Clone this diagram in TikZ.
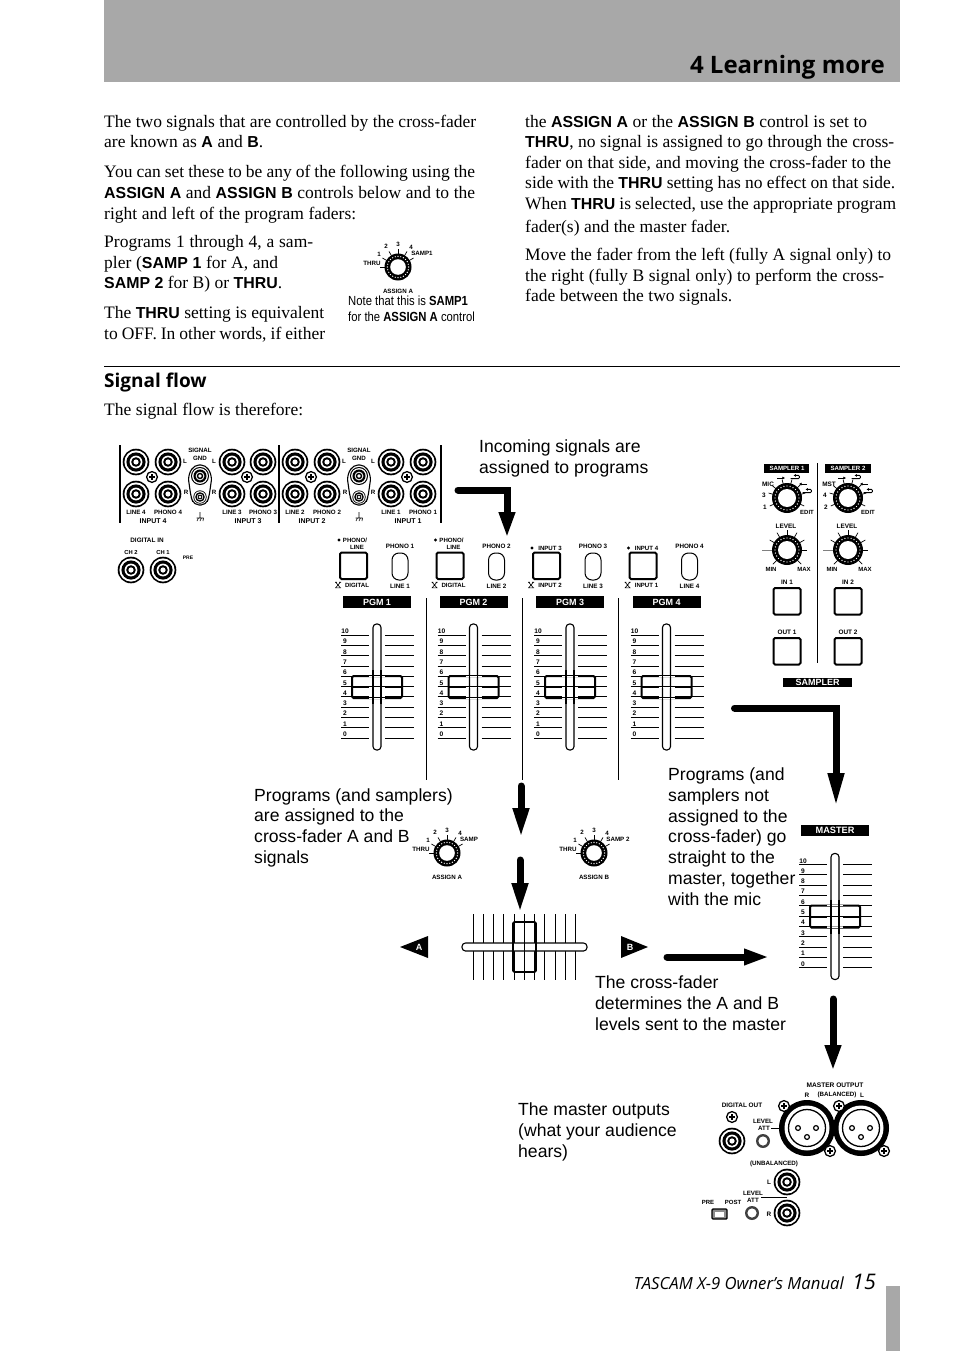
\documentclass[tikz,border=0pt]{standalone}
\usepackage{fontspec}
\setmainfont{Liberation Serif}
\newfontfamily\hv{Liberation Sans}
\newfontfamily\hvn[FakeStretch=0.855]{Liberation Sans}
\newfontfamily\headf{Open Sans}
\usetikzlibrary{arrows.meta}
\newcounter{nn}
\newcommand{\bsf}[1]{{\hv\bfseries\fontsize{15.9}{18}\selectfont #1}}
\newcommand{\tl}[4]{\stepcounter{nn}\node[bodytext] (t\thenn) at (#1,#2) {\makebox[#3pt][s]{#4}};}
\newcommand{\capt}[3]{\stepcounter{nn}\node[captext] (c\thenn) at (#1,#2) {#3};}
\newcommand{\lbl}[4]{\stepcounter{nn}\node[anchor=base,inner sep=0pt,font=\hv\bfseries\fontsize{#3}{#3}\selectfont] (l\thenn) at ({#1},{(#2)+0.36*(#3)}) {#4};}
\newcommand{\wlbl}[4]{\stepcounter{nn}\node[anchor=base,inner sep=0pt,text=white,font=\hv\bfseries\fontsize{#3}{#3}\selectfont] (w\thenn) at ({#1},{(#2)+0.36*(#3)}) {#4};}
\newcommand{\jack}[3]{%
 \fill[black] (#1,#2) circle[radius=13.3pt*#3];
 \fill[white] (#1,#2) circle[radius=11.6pt*#3];
 \fill[black] (#1,#2) circle[radius=9.6pt*#3];
 \fill[white] (#1,#2) circle[radius=6.4pt*#3];
 \fill[black] (#1,#2) circle[radius=4.8pt*#3];
 \fill[white] (#1,#2) circle[radius=2.6pt*#3];}
\newcommand{\screw}[2]{%
 \draw[line width=1.3pt,fill=white] (#1,#2) circle[radius=5.4pt];
 \draw[line width=1.1pt] ({#1-3},#2) -- ({#1+3},#2) ({#1},{#2-3}) -- ({#1},{#2+3});}
\newcommand{\tick}[5]{\draw[line width=.7pt] ({#1+#4*cos(#3)},{#2-#4*sin(#3)}) -- ({#1+#5*cos(#3)},{#2-#5*sin(#3)});}
\newcommand{\knob}[4]{%
 \fill[black] (#1,#2) circle[radius=#3 pt];
 \foreach \ka in {0,15,...,345}{\fill[white] ({#1+(#3*.5+#4*.5)*cos(\ka)},{#2-(#3*.5+#4*.5)*sin(\ka)}) circle[radius=.7pt];}
 \fill[white] (#1,#2) circle[radius=#4 pt];}
\newcommand{\assignknob}[5]{% x y sampxoff samp bottom
 \foreach \ta in {30,60,...,180}{\tick{#1}{#2}{\ta}{13}{18}}
 \knob{#1}{#2}{13.5}{7.8}
 \lbl{#1-26}{#2-4}{6.2}{THRU}
 \lbl{#1-19}{#2-13}{6.2}{1}
 \lbl{#1-12}{#2-20.5}{6.2}{2}
 \lbl{#1}{#2-23}{6.2}{3}
 \lbl{#1+13}{#2-20}{6.2}{4}
 \lbl{#1+#3}{#2-14}{6.2}{#4}
 \lbl{#1}{#2+24}{6.2}{#5}}
\newcommand{\btn}[2]{\draw[line width=2pt,rounded corners=1.5pt,fill=white] (#1,#2) rectangle ++(27,26.5);}
\newcommand{\blackbox}[4]{\fill[black] (#1,#2) rectangle (#3,#4);}
\newcommand{\xmark}[2]{\draw[line width=.6pt] ({#1-2.2},{#2-2.6}) -- ({#1+2.2},{#2+2.6}) ({#1+2.2},{#2-2.6}) -- ({#1-2.2},{#2+2.6}) ({#1-3},{#2-2.8}) -- ({#1-1.2},{#2-2.8}) ({#1+1.2},{#2-2.8}) -- ({#1+3},{#2-2.8}) ({#1-3},{#2+2.8}) -- ({#1+3},{#2+2.8});}
\newcommand{\dia}[2]{\fill[black] ({#1-1.6},#2) -- (#1,{#2-1.6}) -- ({#1+1.6},#2) -- (#1,{#2+1.6}) -- cycle;}
\newcommand{\faderscale}{%
 \foreach \i/\v in {0/10,1/9,2/8,3/7,4/6,5/5,6/4,7/3,8/2,9/1,10/0}{%
  \pgfmathsetmacro{\yy}{635+10.3*\i}
  \draw[line width=.7pt] (341,\yy) -- (369,\yy) (385,\yy) -- (414,\yy);
  \lbl{345}{\yy-3.8}{6.6}{\v}}
 \draw[line width=1.1pt,fill=white,rounded corners=3.5pt] (373,624) rectangle (381,750);
 \draw[line width=2pt,rounded corners=1.5pt] (352,676) rectangle (402,698);
 \draw[line width=2pt] (352,687.3) -- (402,687.3);
 \draw[line width=.6pt,white] (369,676) -- (385,676) (369,687.3) -- (385,687.3) (369,698) -- (385,698);
 \draw[line width=1.1pt] (373,670) -- (373,704) (381,670) -- (381,704);}
\newcommand{\strip}[7]{\begin{scope}[shift={(#1,0)}]
 \btn{340}{552.5}
 \draw[line width=1pt,rounded corners=7pt,fill=white] (392,553) rectangle (408,580);
 \lbl{400}{546}{6.3}{#2}
 \lbl{400}{586}{6.3}{#3}
 \dia{339}{#4}
 #5
 \xmark{338}{585}
 \lbl{357}{585}{6.1}{#6}
 \blackbox{343}{596}{411}{608}
 \wlbl{377}{602}{9}{#7}
 \faderscale
\end{scope}}
\newcommand{\xlr}[2]{%
 \fill[black] (#1,#2) circle[radius=28pt];
 \fill[white] (#1,#2) circle[radius=22.5pt];
 \draw[line width=1.3pt] (#1,#2) circle[radius=18.5pt];
 \draw[line width=1.2pt] ({#1-9},#2) circle[radius=2.4pt] ({#1+9},#2) circle[radius=2.4pt] (#1,{#2+9}) circle[radius=2.4pt];}
\newcommand{\smallknob}[2]{%
 \fill[black!75] (#1,#2) circle[radius=7pt];
 \fill[white] (#1,#2) circle[radius=4.6pt];}
\newcommand{\looparrow}[2]{\draw[line width=.9pt,rounded corners=1.2pt,-{Latex[length=2.4pt,width=3pt]}] ({#1-4.5},{#2+1.6}) -- ({#1+4.5},{#2+1.6}) -- ({#1+4.5},{#2-1.6}) -- ({#1-1.5},{#2-1.6});}
\newcommand{\sampknobs}[6]{%
 \foreach \ta in {205,165,140,105,75,45,15,-25}{\tick{#1}{498}{\ta}{14}{19}}
 \knob{#1}{498}{15}{9}
 \lbl{#1-19}{484}{6.4}{#2}
 \lbl{#1-23}{495}{6.4}{#3}
 \lbl{#1-22}{507}{6.4}{#4}
 \lbl{#1+20}{512}{6}{EDIT}
 \draw[line width=.9pt,-{Latex[length=2.6pt,width=3.2pt]}] ({#1-10},478) -- ({#1-2},478);
 \looparrow{#1+8}{477}
 \draw[line width=.9pt,-{Latex[length=2.6pt,width=3.2pt]}] ({#1+20},484) -- ({#1+12},484);
 \looparrow{#1+20}{491}
 \lbl{#1-1}{526}{6.4}{LEVEL}
 \foreach \ta in {0,30,60,90,120,150,225,315}{\tick{#1}{550}{\ta}{14}{20}}
 \draw[line width=.9pt,gray] ({#1-25},550) -- ({#1-14},550);
 \knob{#1}{550}{15}{9}
 \lbl{#1-16}{569}{6}{MIN}
 \lbl{#1+17}{569}{6}{MAX}
 \lbl{#1}{582}{6.4}{#5}
 \btn{#1-13.5}{588}
 \lbl{#1}{632}{6.4}{#6}
 \btn{#1-13.5}{638}}
\newcommand{\gnd}[1]{\draw[line width=.6pt] (#1,512) -- (#1,518) ({#1-3.5},518) -- ({#1+3.5},518) ({#1-3},521) -- ({#1-1.5},518) ({#1},521) -- ({#1+1.5},518) ({#1+3},521) -- ({#1+3.5},518);}
\newcommand{\gndcol}[1]{%
 \draw[line width=1.1pt,fill=white,rounded corners=5pt] ({#1-6},465) -- ({#1+6},465) -- ({#1+12},476) -- ({#1+9},497) -- ({#1+6},505) -- ({#1-6},505) -- ({#1-9},497) -- ({#1-12},476) -- cycle;
 \jack{#1}{476}{.68}
 \jack{#1}{497}{.5}
 \lbl{#1}{450}{6.2}{SIGNAL}
 \lbl{#1}{458}{6.2}{GND}
 \lbl{#1-15}{461}{6.2}{L}
 \lbl{#1+14}{461}{6.2}{L}
 \lbl{#1-14}{492}{6.2}{R}
 \lbl{#1+14}{492}{6.2}{R}
 \gnd{#1}}
\tikzset{
 bodytext/.style={anchor=base west,inner sep=0pt,font=\fontsize{17.5}{20}\selectfont},
 captext/.style={anchor=base west,inner sep=0pt,font=\hv\fontsize{17.6}{20}\selectfont},
 bigarrow/.style={draw=black,line width=7pt,line cap=round,-{Triangle[length=#1,width=15pt]}},
 bigarrow/.default=30pt,
}
\begin{document}
\begin{tikzpicture}[x=1pt,y=-1pt]
\useasboundingbox (0,0) rectangle (954,1351);
\fill[white] (0,0) rectangle (954,1351);
\fill[black!34] (104,0) rectangle (900,82);
\node[anchor=base east,inner sep=0pt,font=\headf\bfseries\fontsize{24}{28}\selectfont] (title) at (885,74) {4 Learning more};
\fill[black!34] (886,1286) rectangle (900,1351);
% column 1
\tl{104}{128}{372}{The two signals that are controlled by the cross-fader}
\tl{104}{148}{159}{are known as \bsf{A} and \bsf{B}.}
\tl{104}{178}{371}{You can set these to be any of the following using the}
\tl{104}{198}{371}{\bsf{ASSIGN A} and \bsf{ASSIGN B} controls below and to the}
\tl{104}{219}{252}{right and left of the program faders:}
\tl{104}{247}{209}{Programs 1 through 4, a sam-}
\tl{104}{268}{174}{pler (\bsf{SAMP 1} for A, and}
\tl{104}{288}{178}{\bsf{SAMP 2} for B) or \bsf{THRU}.}
\tl{104}{318}{220}{The \bsf{THRU} setting is equivalent}
\tl{104}{339}{221}{to OFF. In other words, if either}
% column 2
\tl{525}{128}{342}{the \bsf{ASSIGN A} or the \bsf{ASSIGN B} control is set to}
\tl{525}{148}{369}{\bsf{THRU}, no signal is assigned to go through the cross-}
\tl{525}{169}{366}{fader on that side, and moving the cross-fader to the}
\tl{525}{189}{370}{side with the \bsf{THRU} setting has no effect on that side.}
\tl{525}{209}{371}{When \bsf{THRU} is selected, use the appropriate program}
\tl{525}{232}{205}{fader(s) and the master fader.}
\tl{525}{260}{366}{Move the fader from the left (fully A signal only) to}
\tl{525}{281}{359}{the right (fully B signal only) to perform the cross-}
\tl{525}{301}{207}{fade between the two signals.}
% note knob
\assignknob{398}{267}{24}{SAMP1}{ASSIGN A}
\node[anchor=base west,inner sep=0pt,font=\hvn\fontsize{13.2}{15}\selectfont] (note1) at (348,305) {Note that this is \textbf{SAMP1}};
\node[anchor=base west,inner sep=0pt,font=\hvn\fontsize{13.2}{15}\selectfont] (note2) at (348,321) {for the \textbf{ASSIGN A} control};
% heading
\coordinate (ruleL) at (104,366);
\coordinate (ruleR) at (900,366);
\draw[line width=.8pt] (ruleL) -- (ruleR);
\node[anchor=base west,inner sep=0pt,font=\headf\bfseries\fontsize{19}{22}\selectfont] (sigflow) at (104,387) {Signal flow};
\tl{104}{415}{199}{The signal flow is therefore:}
% rear panel
\foreach \bx in {120,279,441}{\draw[line width=1.2pt] (\bx,445) -- (\bx,523);}
\foreach \ja/\jb/\sc/\l in {136/168/152/4,232/263/247/3,295/327/311/2,391/423/407/1}{%
 \jack{\ja}{462}{1}\jack{\jb}{462}{1}\jack{\ja}{494}{1}\jack{\jb}{494}{1}
 \screw{\sc}{477}
 \lbl{\ja}{512}{6.2}{LINE \l}
 \lbl{\jb}{512}{6.2}{PHONO \l}
 \lbl{\sc+1}{521}{7}{INPUT \l}}
\gndcol{200}
\gndcol{359}
\lbl{147}{540}{6.4}{DIGITAL IN}
\lbl{131}{552}{5.8}{CH 2}
\lbl{163}{552}{5.8}{CH 1}
\lbl{188}{558}{5}{PRE}
\jack{131}{570}{1}
\jack{163}{570}{1}
% program strips
\strip{0}{PHONO 1}{LINE 1}{540}{\lbl{355}{540}{6.1}{PHONO/}\lbl{357}{547}{6.1}{LINE}}{DIGITAL}{PGM 1}
\strip{96.5}{PHONO 2}{LINE 2}{540}{\lbl{355}{540}{6.1}{PHONO/}\lbl{357}{547}{6.1}{LINE}}{DIGITAL}{PGM 2}
\strip{193}{PHONO 3}{LINE 3}{548}{\lbl{357}{548}{6.1}{INPUT 3}}{INPUT 2}{PGM 3}
\strip{289.5}{PHONO 4}{LINE 4}{548}{\lbl{357}{548}{6.1}{INPUT 4}}{INPUT 1}{PGM 4}
\foreach \sx in {426,522,618}{\draw[line width=.9pt] (\sx,598) -- (\sx,780);}
% sampler
\blackbox{764}{464}{809}{473}
\wlbl{787}{468.5}{6.1}{SAMPLER 1}
\blackbox{825}{464}{871}{473}
\wlbl{848}{468.5}{6.1}{SAMPLER 2}
\draw[line width=.9pt] (817,463) -- (817,663);
\sampknobs{787}{MIC}{3}{1}{IN 1}{OUT 1}
\sampknobs{848}{MST}{4}{2}{IN 2}{OUT 2}
\blackbox{783}{678}{852}{687}
\wlbl{817.5}{682.5}{9}{SAMPLER}
% master fader
\blackbox{801}{825}{869}{836}
\wlbl{835}{830.5}{9.2}{MASTER}
\begin{scope}[shift={(458,229.5)}]\faderscale\end{scope}
% assign knobs
\assignknob{447}{853}{22}{SAMP}{ASSIGN A}
\assignknob{594}{853}{24}{SAMP 2}{ASSIGN B}
% crossfader
\foreach \cx in {473,483,493,503,514,524,534,544,555,565,575}{\draw[line width=.7pt] (\cx,914) -- (\cx,980);}
\draw[line width=1.1pt,fill=white,rounded corners=3.5pt] (462,943) rectangle (587,951);
\draw[line width=1.8pt,rounded corners=1.5pt] (513,922) rectangle (536,972);
\draw[line width=1.8pt] (524.5,922) -- (524.5,972);
\fill[black] (400,947) -- (428,936) -- (428,958) -- cycle;
\wlbl{419}{947}{9}{A}
\fill[black] (648,947) -- (621,936) -- (621,958) -- cycle;
\wlbl{630}{947}{9}{B}
% master output
\xlr{807}{1128}
\xlr{861}{1128}
\screw{784}{1106}
\screw{830}{1151}
\screw{839}{1106}
\screw{884}{1151}
\lbl{835}{1085}{6.6}{MASTER OUTPUT}
\lbl{807}{1095}{6.4}{R}
\lbl{837}{1094}{6.2}{(BALANCED)}
\lbl{862}{1095}{6.4}{L}
\lbl{742}{1105}{6.4}{DIGITAL OUT}
\screw{732}{1117}
\jack{732}{1141}{1}
\lbl{763}{1121}{6.2}{LEVEL}
\lbl{764}{1128}{6.2}{ATT}
\coordinate (attA) at (771,1128);
\coordinate (attB) at (780,1128);
\draw[line width=1pt] (attA) -- (attB);
\smallknob{763}{1141}
\lbl{774}{1163}{6.2}{(UNBALANCED)}
\coordinate (attC) at (761,1197);
\coordinate (attD) at (787,1197);
\draw[line width=1pt] (attC) -- (attD);
\jack{787}{1182}{1}
\jack{787}{1213}{1}
\lbl{769}{1182}{6.4}{L}
\lbl{769}{1214}{6.4}{R}
\lbl{753}{1193}{6.2}{LEVEL}
\lbl{753}{1200}{6.2}{ATT}
\lbl{708}{1202}{6}{PRE}
\lbl{733}{1202}{6}{POST}
\draw[line width=1.4pt,fill=black!45,rounded corners=1pt] (712,1209) rectangle (727,1219);
\fill[white] (715,1211.5) rectangle (724,1216.5);
\smallknob{752}{1213}
% captions
\capt{479}{452}{Incoming signals are}
\capt{479}{473}{assigned to programs}
\capt{254}{801}{Programs (and samplers)}
\capt{254}{821}{are assigned to the}
\capt{254}{842}{cross-fader A and B}
\capt{254}{863}{signals}
\capt{668}{780}{Programs (and}
\capt{668}{801}{samplers not}
\capt{668}{822}{assigned to the}
\capt{668}{842}{cross-fader) go}
\capt{668}{863}{straight to the}
\capt{668}{884}{master, together}
\capt{668}{905}{with the mic}
\capt{595}{988}{The cross-fader}
\capt{595}{1009}{determines the A and B}
\capt{595}{1030}{levels sent to the master}
\capt{518}{1115}{The master outputs}
\capt{518}{1136}{(what your audience}
\capt{518}{1157}{hears)}
% arrows
\coordinate (a1s) at (458,490); \coordinate (a1e) at (507,538);
\draw[bigarrow=26pt] (a1s) -| (a1e);
\coordinate (a2s) at (734.5,708); \coordinate (a2e) at (836,807);
\draw[bigarrow=34pt] (a2s) -| (a2e);
\coordinate (a3s) at (521,786); \coordinate (a3e) at (521,838);
\draw[bigarrow] (a3s) -- (a3e);
\coordinate (a4s) at (520,860); \coordinate (a4e) at (520,913);
\draw[bigarrow] (a4s) -- (a4e);
\coordinate (a5s) at (667,957); \coordinate (a5e) at (769,957);
\draw[bigarrow=25pt] (a5s) -- (a5e);
\coordinate (a6s) at (833,999); \coordinate (a6e) at (833,1071);
\draw[bigarrow=26pt] (a6s) -- (a6e);
% footer
\node[anchor=base east,inner sep=0pt,font=\headf\itshape\fontsize{16.7}{18}\selectfont] (foot) at (844,1289) {TASCAM X-9 Owner’s Manual};
\node[anchor=base west,inner sep=0pt,font=\headf\itshape\fontsize{21.5}{24}\selectfont] (pg) at (852,1289) {15};
\end{tikzpicture}
\end{document}
